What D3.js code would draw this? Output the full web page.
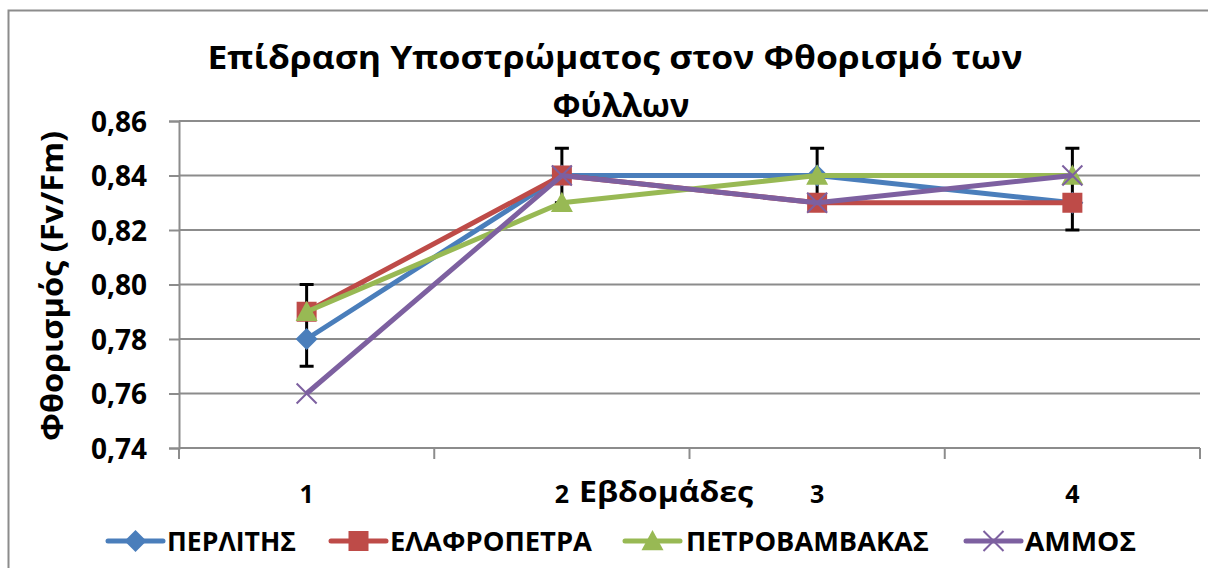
<!DOCTYPE html>
<html>
<head>
<meta charset="utf-8">
<script src="https://cdn.jsdelivr.net/npm/d3@7"></script>
<style>
  html, body { margin: 0; padding: 0; background: #fff; }
  svg { display: block; }
  text { font-family: "Open Sans", "Noto Sans", "DejaVu Sans", sans-serif; font-weight: 700; fill: #000; }
</style>
</head>
<body>
<svg id="chart" width="1208" height="568"></svg>
<script>
// Weeks after planting
const weeks = ["1", "2", "3", "4"];

// Fv/Fm per substrate
const perlite   = [0.78, 0.84, 0.84, 0.83];
const pumice    = [0.79, 0.84, 0.83, 0.83];
const rockwool  = [0.79, 0.83, 0.84, 0.84];
const sand      = [0.76, 0.84, 0.83, 0.84];

// Error bar extents
const errLow  = [0.77, 0.83, 0.83, 0.82];
const errHigh = [0.80, 0.85, 0.85, 0.85];

const yTicks = [0.74, 0.76, 0.78, 0.80, 0.82, 0.84, 0.86];

const seriesNames = ["ΠΕΡΛΙΤΗΣ", "ΕΛΑΦΡΟΠΕΤΡΑ", "ΠΕΤΡΟΒΑΜΒΑΚΑΣ", "ΑΜΜΟΣ"];
const seriesValues = [perlite, pumice, rockwool, sand];
const colors = ["#4A7EBB", "#BE4B48", "#98B954", "#7D60A0"];
const markers = ["diamond", "square", "triangle", "cross"];

const svg = d3.select("#chart");

// chart border
svg.append("rect")
  .attr("x", 8.5).attr("y", 10.5).attr("width", 1240).attr("height", 600)
  .attr("fill", "none").attr("stroke", "#8c8c8c").attr("stroke-width", 2);

const plotLeft = 179, plotRight = 1200, plotTop = 121, plotBottom = 448;

const x = d3.scaleBand().domain(weeks).range([plotLeft, plotRight]).paddingInner(0).paddingOuter(0);
const y = d3.scaleLinear().domain([0.74, 0.86]).range([plotBottom, plotTop]);

const fmt = d => d3.format(".2f")(d).replace(".", ",");

// horizontal gridlines
svg.append("g")
  .selectAll("line")
  .data(yTicks.slice(1))
  .join("line")
  .attr("x1", plotLeft).attr("x2", plotRight)
  .attr("y1", d => y(d)).attr("y2", d => y(d))
  .attr("stroke", "#8c8c8c").attr("stroke-width", 2);

// y axis
const yAxis = svg.append("g")
  .attr("transform", `translate(${plotLeft},0)`)
  .call(d3.axisLeft(y).tickValues(yTicks).tickFormat(fmt).tickSize(10).tickPadding(22));
yAxis.select(".domain").attr("stroke", "#8c8c8c").attr("stroke-width", 2);
yAxis.selectAll(".tick line").attr("stroke", "#8c8c8c").attr("stroke-width", 2);
yAxis.selectAll(".tick text")
  .style("font-size", "28px").style("font-family", "'Open Sans', sans-serif")
  .attr("font-weight", 700).attr("fill", "#000").attr("dy", "0.36em");

// x axis line and category boundary ticks
svg.append("line")
  .attr("x1", plotLeft).attr("x2", plotRight).attr("y1", plotBottom).attr("y2", plotBottom)
  .attr("stroke", "#8c8c8c").attr("stroke-width", 2);
const bounds = weeks.map(w => x(w)).concat([x(weeks[weeks.length - 1]) + x.bandwidth()]);
svg.append("g").selectAll("line")
  .data(bounds)
  .join("line")
  .attr("x1", d => d).attr("x2", d => d)
  .attr("y1", plotBottom).attr("y2", plotBottom + 11)
  .attr("stroke", "#8c8c8c").attr("stroke-width", 2);

// x tick labels
svg.append("g").selectAll("text")
  .data(weeks)
  .join("text")
  .attr("x", d => x(d) + x.bandwidth() / 2)
  .attr("y", 503)
  .attr("text-anchor", "middle")
  .style("font-size", "25px")
  .text(d => d);

// axis titles
svg.append("text")
  .attr("x", 666).attr("y", 502)
  .attr("text-anchor", "middle")
  .style("font-size", "29px")
  .attr("textLength", 174).attr("lengthAdjust", "spacingAndGlyphs")
  .text("Εβδομάδες");

svg.append("text")
  .attr("transform", "translate(63,286) rotate(-90)")
  .attr("text-anchor", "middle")
  .style("font-size", "31px")
  .attr("textLength", 310).attr("lengthAdjust", "spacingAndGlyphs")
  .text("Φθορισμός (Fv/Fm)");

// title
svg.append("text")
  .attr("x", 615).attr("y", 69)
  .attr("text-anchor", "middle")
  .style("font-size", "33px")
  .attr("textLength", 815).attr("lengthAdjust", "spacingAndGlyphs")
  .text("Επίδραση Υποστρώματος στον Φθορισμό των");
svg.append("text")
  .attr("x", 621).attr("y", 117)
  .attr("text-anchor", "middle")
  .style("font-size", "33px")
  .attr("textLength", 137).attr("lengthAdjust", "spacingAndGlyphs")
  .text("Φύλλων");

// error bars
const eb = svg.append("g").attr("stroke", "#000").attr("stroke-width", 3);
weeks.forEach((w, i) => {
  const cx = x(w) + x.bandwidth() / 2;
  eb.append("line").attr("x1", cx).attr("x2", cx).attr("y1", y(errLow[i])).attr("y2", y(errHigh[i]));
  eb.append("line").attr("x1", cx - 7).attr("x2", cx + 7).attr("y1", y(errLow[i])).attr("y2", y(errLow[i]));
  eb.append("line").attr("x1", cx - 7).attr("x2", cx + 7).attr("y1", y(errHigh[i])).attr("y2", y(errHigh[i]));
});

const line = d3.line()
  .x((d, i) => x(weeks[i]) + x.bandwidth() / 2)
  .y(d => y(d));

function drawMarker(g, type, cx, cy, color, r) {
  if (type === "diamond") {
    g.append("path")
      .attr("d", `M${cx},${cy - r}L${cx + r},${cy}L${cx},${cy + r}L${cx - r},${cy}Z`)
      .attr("fill", color);
  } else if (type === "square") {
    g.append("rect")
      .attr("x", cx - r + 1).attr("y", cy - r + 1).attr("width", 2 * r - 2).attr("height", 2 * r - 2)
      .attr("fill", color);
  } else if (type === "triangle") {
    g.append("path")
      .attr("d", `M${cx},${cy - r}L${cx + r},${cy + r * 0.85}L${cx - r},${cy + r * 0.85}Z`)
      .attr("fill", color);
  } else {
    g.append("path")
      .attr("d", `M${cx - r + 1},${cy - r + 1}L${cx + r - 1},${cy + r - 1}M${cx - r + 1},${cy + r - 1}L${cx + r - 1},${cy - r + 1}`)
      .attr("stroke", color).attr("stroke-width", 2).attr("fill", "none");
  }
}

// series lines + markers
seriesValues.forEach((vals, s) => {
  const g = svg.append("g");
  g.append("path")
    .datum(vals)
    .attr("d", line)
    .attr("fill", "none")
    .attr("stroke", colors[s])
    .attr("stroke-width", 5)
    .attr("stroke-linejoin", "round");
  vals.forEach((v, i) => {
    drawMarker(g, markers[s], x(weeks[i]) + x.bandwidth() / 2, y(v), colors[s], 11);
  });
});

// legend
const legendItems = [
  { x0: 108, tx: 167, w: 129 },
  { x0: 331, tx: 390, w: 202 },
  { x0: 625, tx: 686, w: 243 },
  { x0: 966, tx: 1025, w: 111 }
];
const ly = 541;
seriesNames.forEach((name, s) => {
  const it = legendItems[s];
  const g = svg.append("g");
  g.append("line")
    .attr("x1", it.x0).attr("x2", it.x0 + 55)
    .attr("y1", ly).attr("y2", ly)
    .attr("stroke", colors[s]).attr("stroke-width", 5).attr("stroke-linecap", "round");
  drawMarker(g, markers[s], it.x0 + 27.5, ly, colors[s], 11);
  g.append("text")
    .attr("x", it.tx).attr("y", ly + 10)
    .style("font-size", "27px")
    .attr("textLength", it.w).attr("lengthAdjust", "spacingAndGlyphs")
    .text(name);
});
</script>
</body>
</html>
